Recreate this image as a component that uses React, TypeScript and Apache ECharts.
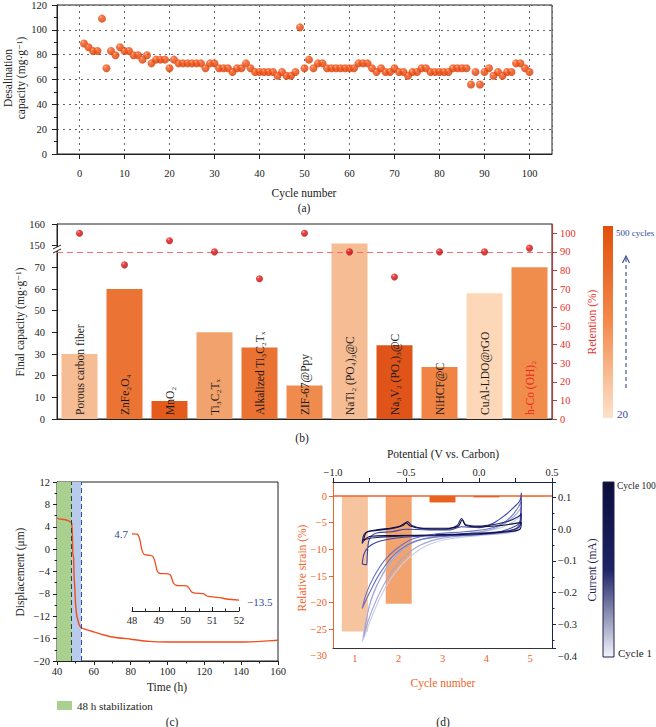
import React, { useEffect, useRef } from 'react';
import * as echarts from 'echarts';

const F = "'Liberation Serif', 'DejaVu Serif', serif";

// ---------- (a) desalination capacity vs cycle ----------
const capacityA = [
  89, 86, 83, 83, 109, 69, 83, 79.5, 86, 83,
  83, 79.5, 79.5, 76, 79.5, 73, 76, 76, 76, 69,
  76, 73, 73, 73, 73, 73, 73, 69, 73, 73,
  69, 69, 69, 66, 69, 69, 73, 69, 66, 66,
  66, 66, 66, 63, 66, 63, 63, 66, 102, 69,
  76, 69, 73, 73, 69, 69, 69, 69, 69, 69,
  69, 73, 73, 73, 69, 66, 69, 66, 66, 69,
  66, 66, 63, 66, 66, 69, 69, 66, 66, 66,
  66, 66, 69, 69, 69, 69, 56, 66, 56, 66,
  69, 63, 66, 63, 66, 66, 73, 73, 69, 66,
];

// ---------- (b) final capacity & retention ----------
const materials = [
  'Porous carbon fiber', 'ZnFe₂O₄', 'MnO₂', 'Ti₃C₂Tₓ', 'Alkalized Ti₃C₂Tₓ', 'ZIF-67@Ppy',
  'NaTi₂ (PO₄)₃@C', 'Na₃V₂ (PO₄)₃@C', 'NiHCF@C', 'CuAl-LDO@rGO', 'h-Co (OH)₂',
];
const finalCapacity = [30, 60, 8.3, 40, 33, 15.5, 151, 34, 24, 58, 70];
const retention = [100, 83, 96, 90, 75.5, 100, 90, 76.5, 90, 90, 92];
const leftTickLabels = ['0', '10', '20', '30', '40', '50', '60', '70', '150', '160'];

// ---------- (c) displacement ----------
const timeH = [40, 41, 44, 46, 47.5, 48, 48.4, 48.6, 49, 49.3, 49.6, 50, 50.4, 50.8, 51.5, 52, 53, 55, 60, 65, 70, 80, 90, 100, 120, 140, 150, 160];
const displacement = [5.6, 5.4, 5.3, 5.1, 4.8, 4.6, 2.0, -0.8, -1.5, -5, -6.5, -9.3, -11, -12, -12.9, -13.5, -14.0, -14.3, -14.8, -15.3, -15.7, -16.1, -16.5, -16.6, -16.6, -16.6, -16.5, -16.3];
const insetTime = [48, 48.19, 48.28, 48.37, 48.46, 48.62, 48.78, 48.87, 48.95, 49.05, 49.36, 49.45, 49.55, 49.67, 50.04, 50.13, 50.23, 50.35, 50.66, 50.76, 50.85, 51.28, 51.53, 52];
const insetDisp = [4.7, 4.6, 3.5, 0.3, -1.0, -1.16, -1.5, -3.35, -5.6, -6.2, -6.3, -6.8, -8.8, -9.5, -9.6, -10.2, -11.3, -11.6, -11.7, -12.2, -12.5, -12.8, -13.2, -13.5];

// ---------- (d) strain & CV ----------
const strainCycles = ['1', '2', '3', '4', '5'];
const relativeStrain = [-25.4, -20.2, -1.2, -0.25, -0.1];

const cv1 = [[-0.80, -0.356], [-0.78, -0.30], [-0.75, -0.24], [-0.70, -0.18], [-0.63, -0.12], [-0.55, -0.07], [-0.45, -0.04], [-0.3, -0.025], [-0.1, -0.015], [0.05, -0.005], [0.15, 0.005], [0.22, 0.02], [0.27, 0.035], [0.29, 0.045],
  [0.27, 0.0], [0.2, -0.012], [0.0, -0.02], [-0.2, -0.03], [-0.35, -0.05], [-0.48, -0.09], [-0.58, -0.14], [-0.66, -0.2], [-0.72, -0.26], [-0.77, -0.32], [-0.80, -0.356]];
const cv2 = [[-0.79, -0.34], [-0.77, -0.28], [-0.73, -0.21], [-0.67, -0.15], [-0.6, -0.1], [-0.5, -0.055], [-0.38, -0.03], [-0.2, -0.018], [0.0, -0.01], [0.12, 0.005], [0.2, 0.025], [0.26, 0.05], [0.29, 0.07],
  [0.27, 0.005], [0.2, -0.01], [0.0, -0.018], [-0.25, -0.028], [-0.4, -0.05], [-0.52, -0.09], [-0.62, -0.15], [-0.7, -0.22], [-0.76, -0.29], [-0.79, -0.34]];
const cv3 = [[-0.80, -0.25], [-0.77, -0.2], [-0.72, -0.15], [-0.65, -0.1], [-0.56, -0.06], [-0.45, -0.03], [-0.3, -0.015], [-0.1, -0.008], [0.05, 0.0], [0.15, 0.015], [0.22, 0.04], [0.27, 0.07], [0.29, 0.09],
  [0.27, 0.01], [0.15, -0.01], [-0.05, -0.018], [-0.3, -0.025], [-0.45, -0.04], [-0.58, -0.08], [-0.68, -0.14], [-0.75, -0.2], [-0.80, -0.25]];
const cv4 = [[-0.80, -0.11], [-0.77, -0.112], [-0.765, -0.08], [-0.75, -0.03], [-0.7, -0.012], [-0.6, -0.008], [-0.5, 0.0], [-0.35, -0.002], [-0.2, -0.002], [-0.12, 0.008], [0.0, 0.005], [0.1, 0.02], [0.18, 0.045], [0.24, 0.07], [0.28, 0.09], [0.29, 0.115],
  [0.285, 0.03], [0.25, 0.01], [0.1, -0.012], [-0.1, -0.018], [-0.4, -0.022], [-0.6, -0.03], [-0.72, -0.045], [-0.78, -0.07], [-0.80, -0.11]];
const cv5 = [[-0.80, -0.045], [-0.78, -0.012], [-0.7, -0.004], [-0.6, 0.002], [-0.52, 0.012], [-0.49, 0.024], [-0.46, 0.012], [-0.38, 0.002], [-0.25, 0.0], [-0.15, 0.012], [-0.12, 0.034], [-0.09, 0.014], [0.0, 0.01], [0.1, 0.015], [0.2, 0.025], [0.27, 0.04], [0.29, 0.05],
  [0.28, 0.01], [0.2, -0.005], [0.0, -0.012], [-0.3, -0.018], [-0.55, -0.022], [-0.7, -0.026], [-0.78, -0.032], [-0.80, -0.045]];
const cv6 = [[-0.79, -0.035], [-0.77, -0.01], [-0.7, -0.002], [-0.6, 0.004], [-0.54, 0.01], [-0.5, 0.02], [-0.47, 0.01], [-0.4, 0.003], [-0.2, 0.003], [-0.14, 0.01], [-0.115, 0.03], [-0.09, 0.012], [0.0, 0.008], [0.15, 0.012], [0.27, 0.02], [0.29, 0.022],
  [0.28, 0.0], [0.2, -0.008], [0.0, -0.014], [-0.3, -0.018], [-0.6, -0.02], [-0.74, -0.022], [-0.79, -0.035]];
const cvLoops = [cv1, cv2, cv3, cv4, cv5, cv6];

// ---------- styles ----------
const barColorsB = ['#f6bd94', '#eb7434', '#e35c1c', '#f2a26c', '#ea7232', '#f08b4e', '#f6bd94', '#e0541a', '#ef8444', '#fdd8b8', '#f08c4c'];
const strainColors = ['#f7c4a0', '#f2a36e', '#e8621e', '#dc4f1a', '#f3a070'];
const cvColors = ['#c8cbea', '#a0a6d8', '#6b72bf', '#3c43a0', '#1f2472', '#0b0d3c'];
const ORANGE = '#f0622a';
const NAVY = '#1c2350';
const BLUE_TXT = '#34489a';

const minus = (v: number, d = 0) => (v < 0 ? '−' + Math.abs(v).toFixed(d) : v.toFixed(d));
const capToDisplay = (v: number) => (v > 75 ? v - 70 : v);

function txt(text: string, x: number, y: number, o: any = {}) {
  const align = o.align || 'center';
  return {
    type: 'text', x, y, rotation: o.rot || 0, z: 100, silent: true,
    style: {
      text, fill: o.color || '#222', fontSize: o.size || 11.5, fontFamily: F,
      textAlign: align, textVerticalAlign: 'middle', align, verticalAlign: 'middle',
    },
  };
}

export default function App() {
  const ref = useRef<HTMLDivElement>(null);
  useEffect(() => {
    document.body.style.margin = '0';
    const chart = echarts.init(ref.current!, undefined, { renderer: 'svg' });
    const R = Math.PI / 2;

    const dotA = new echarts.graphic.RadialGradient(0.35, 0.3, 0.7, [
      { offset: 0, color: '#ffb487' }, { offset: 0.25, color: '#f7551a' }, { offset: 1, color: '#d43800' },
    ]);
    const dotB = new echarts.graphic.RadialGradient(0.35, 0.3, 0.7, [
      { offset: 0, color: '#ffa0a0' }, { offset: 0.3, color: '#e81414' }, { offset: 1, color: '#b00808' },
    ]);

    const lbl = { fontFamily: F, fontSize: 10.5, color: '#222' };
    const line = (color: string, extra: any = {}) => ({ show: true, onZero: false, lineStyle: { color, ...extra } });

    const option: any = {
      animation: false,
      textStyle: { fontFamily: F },
      grid: [
        { left: 57, top: 5, width: 495, height: 149, show: true, borderColor: '#222', borderWidth: 1, containLabel: false, outerBoundsMode: 'none' },
        { left: 57, top: 224, width: 495, height: 195, show: true, borderColor: '#222', borderWidth: 1, containLabel: false, outerBoundsMode: 'none' },
        { left: 57, top: 482, width: 221, height: 179, show: true, borderColor: '#222', borderWidth: 1, containLabel: false, outerBoundsMode: 'none' },
        { left: 132, top: 530, width: 107, height: 81, show: false, containLabel: false, outerBoundsMode: 'none' },
        { left: 333, top: 482, width: 219, height: 166, show: false, containLabel: false, outerBoundsMode: 'none' },
      ],
      xAxis: [
        { gridIndex: 0, type: 'value', min: -5, max: 105, splitNumber: 11,
          axisLine: line('#222'), axisTick: { length: 5, lineStyle: { color: '#222' } },
          axisLabel: { ...lbl, margin: 14, showMinLabel: false, showMaxLabel: false },
          splitLine: { show: true, lineStyle: { type: [2, 4], color: '#666' } } },
        { gridIndex: 1, type: 'category', data: materials, boundaryGap: true,
          axisLine: line('#222'), axisTick: { show: false }, axisLabel: { show: false }, splitLine: { show: false } },
        { gridIndex: 2, type: 'value', min: 40, max: 160, interval: 20,
          axisLine: line('#222'), axisTick: { length: 4, lineStyle: { color: '#222' } },
          minorTick: { show: true, splitNumber: 2, length: 2.5, lineStyle: { color: '#222' } },
          axisLabel: { ...lbl, margin: 5 }, splitLine: { show: false } },
        { gridIndex: 3, type: 'value', min: 48, max: 52, interval: 1,
          axisLine: line('#222'), axisTick: { inside: true, length: 4, lineStyle: { color: '#222' } },
          minorTick: { show: true, splitNumber: 2, length: 2.5, lineStyle: { color: '#222' } },
          axisLabel: { ...lbl, margin: 4 }, splitLine: { show: false } },
        { gridIndex: 4, type: 'category', data: strainCycles, position: 'bottom', boundaryGap: true,
          axisLine: line('#333'), axisTick: { alignWithLabel: true, length: 4, lineStyle: { color: ORANGE } },
          axisLabel: { ...lbl, color: ORANGE, margin: 5 }, splitLine: { show: false } },
        { gridIndex: 4, type: 'value', position: 'top', min: -1, max: 0.5, interval: 0.5,
          axisLine: line(NAVY), axisTick: { length: 4, lineStyle: { color: NAVY } },
          minorTick: { show: true, splitNumber: 2, length: 4, lineStyle: { color: NAVY } },
          axisLabel: { ...lbl, margin: 4, formatter: (v: number) => minus(v, 1) }, splitLine: { show: false } },
      ],
      yAxis: [
        { gridIndex: 0, type: 'value', min: 0, max: 120, interval: 20,
          axisLine: line('#222'), axisTick: { show: true, length: 5, lineStyle: { color: '#222' } },
          minorTick: { show: true, splitNumber: 2, length: 3, lineStyle: { color: '#222' } },
          axisLabel: { ...lbl, margin: 10 },
          splitLine: { show: true, lineStyle: { type: [2, 4], color: '#666' } } },
        { gridIndex: 1, type: 'value', min: 0, max: 90, interval: 10,
          axisLine: line('#222'), axisTick: { show: true, length: 5, lineStyle: { color: '#222' } },
          axisLabel: { ...lbl, margin: 12, formatter: (v: number) => leftTickLabels[Math.round(v / 10)] || '' },
          splitLine: { show: false } },
        { gridIndex: 1, type: 'value', position: 'right', min: 0, max: 105, interval: 10,
          axisLine: line('#a84444', { width: 1.2 }),
          axisTick: { show: true, length: 5, lineStyle: { color: '#a84444' } },
          axisLabel: { ...lbl, color: '#e8302a', margin: 8, showMaxLabel: false, formatter: (v: number) => (v > 100 ? '' : String(v)) },
          splitLine: { show: false } },
        { gridIndex: 2, type: 'value', min: -20, max: 12, interval: 4,
          axisLine: line('#222'), axisTick: { show: true, length: 4, lineStyle: { color: '#222' } },
          minorTick: { show: true, splitNumber: 2, length: 2.5, lineStyle: { color: '#222' } },
          axisLabel: { ...lbl, margin: 7, formatter: (v: number) => minus(v) }, splitLine: { show: false } },
        { gridIndex: 3, type: 'value', min: -16.5, max: 5.75, show: false, axisLine: { onZero: false } },
        { gridIndex: 4, type: 'value', position: 'left', min: -28.5, max: 2.63, splitNumber: 6,
          axisLine: line(ORANGE), axisTick: { show: true, length: 4, lineStyle: { color: ORANGE } },
          axisLabel: { ...lbl, color: ORANGE, margin: 6, showMinLabel: false, showMaxLabel: false, formatter: (v: number) => minus(v) },
          splitLine: { show: false } },
        { gridIndex: 4, type: 'value', position: 'right', min: -0.3745, max: 0.149, splitNumber: 5,
          axisLine: line(NAVY), axisTick: { show: true, length: 4, lineStyle: { color: NAVY } },
          minorTick: { show: true, splitNumber: 2, length: 2.5, lineStyle: { color: NAVY } },
          axisLabel: { ...lbl, margin: 6, showMinLabel: false, showMaxLabel: false, formatter: (v: number) => minus(v, 1) },
          splitLine: { show: false } },
      ],
      series: [
        { type: 'scatter', xAxisIndex: 0, yAxisIndex: 0, symbolSize: 8,
          data: capacityA.map((v, i) => [i + 1, v]), itemStyle: { color: dotA } },
        { type: 'bar', xAxisIndex: 1, yAxisIndex: 1, barCategoryGap: '20%',
          data: finalCapacity.map((v, i) => ({
            value: capToDisplay(v), itemStyle: { color: barColorsB[i] },
            label: { color: i === 10 ? '#e8281e' : '#1a1a1a' },
          })),
          label: { show: true, position: 'insideBottom', rotate: 90, align: 'left', verticalAlign: 'middle', distance: 4,
            fontFamily: F, fontSize: 11.5, formatter: (p: any) => materials[p.dataIndex] } },
        { type: 'scatter', xAxisIndex: 1, yAxisIndex: 2, symbolSize: 7, z: 5,
          data: retention, itemStyle: { color: dotB },
          markLine: { silent: true, symbol: 'none', label: { show: false },
            lineStyle: { type: [6, 4], color: '#f07070', width: 1.2 }, data: [{ yAxis: 90 }] } },
        { type: 'line', xAxisIndex: 2, yAxisIndex: 3, showSymbol: false, smooth: 0.2,
          data: timeH.map((t, i) => [t, displacement[i]]), lineStyle: { color: '#f04e1c', width: 1.4 }, z: 4,
          markArea: { silent: true, data: [
            [{ xAxis: 40, itemStyle: { color: '#a9d08e' } }, { xAxis: 47.6 }],
            [{ xAxis: 47.6, itemStyle: { color: '#b9cbea' } }, { xAxis: 53 }],
          ] },
          markLine: { silent: true, symbol: 'none', label: { show: false }, data: [
            { xAxis: 47.6, lineStyle: { color: '#2d4a2d', type: [5, 3], width: 1 } },
            { xAxis: 53, lineStyle: { color: '#2a4fa8', type: [5, 3], width: 1 } },
          ] } },
        { type: 'line', xAxisIndex: 3, yAxisIndex: 4, showSymbol: false, smooth: 0.3,
          data: insetTime.map((t, i) => [t, insetDisp[i]]), lineStyle: { color: '#f04e1c', width: 1.3 } },
        { type: 'bar', xAxisIndex: 4, yAxisIndex: 5, barWidth: 26,
          data: relativeStrain.map((v, i) => ({ value: v, itemStyle: { color: strainColors[i] } })),
          markLine: { silent: true, symbol: 'none', label: { show: false },
            lineStyle: { type: 'solid', color: ORANGE, width: 1.5 }, data: [{ yAxis: 0 }] } },
        ...cvLoops.map((loop, k) => ({
          type: 'line', xAxisIndex: 5, yAxisIndex: 6, showSymbol: false, smooth: 0.35, z: 6,
          data: loop, lineStyle: { color: cvColors[k], width: 1.1 },
        })),
      ],
      graphic: [
        // (a)
        txt('Desalination', 8, 78, { rot: R }),
        txt('capacity (mg·g⁻¹)', 21, 78, { rot: R }),
        txt('Cycle number', 304, 193),
        txt('(a)', 304, 208),
        // (b)
        txt('Final capacity (mg·g⁻¹)', 20, 322, { rot: R }),
        txt('Retention (%)', 592, 322, { rot: R, color: '#e8302a' }),
        txt('(b)', 302, 438),
        { type: 'rect', z: 100, shape: { x: 52, y: 247, width: 12, height: 4 }, style: { fill: '#fff' } },
        { type: 'line', z: 101, shape: { x1: 53, y1: 249, x2: 61, y2: 245 }, style: { stroke: '#222', lineWidth: 1 } },
        { type: 'line', z: 101, shape: { x1: 53, y1: 253, x2: 61, y2: 249 }, style: { stroke: '#222', lineWidth: 1 } },
        { type: 'rect', z: 100, shape: { x: 603, y: 226, width: 10, height: 192 },
          style: { fill: new echarts.graphic.LinearGradient(0, 0, 0, 1, [
            { offset: 0, color: '#e24f0c' }, { offset: 0.5, color: '#f38a4c' }, { offset: 1, color: '#fde3cc' }]) } },
        txt('500 cycles', 616, 233, { align: 'left', color: BLUE_TXT, size: 9 }),
        txt('20', 617, 414, { align: 'left', color: BLUE_TXT, size: 11 }),
        { type: 'line', z: 100, shape: { x1: 626, y1: 388, x2: 626, y2: 258 }, style: { stroke: BLUE_TXT, lineWidth: 1.1, lineDash: [4, 3] } },
        { type: 'polyline', z: 100, shape: { points: [[622.5, 263], [626, 256], [629.5, 263]] }, style: { stroke: BLUE_TXT, lineWidth: 1.1, fill: 'none' } },
        // (c)
        txt('Displacement (μm)', 20, 572, { rot: R }),
        txt('Time (h)', 167, 687),
        txt('(c)', 172, 722),
        txt('4.7', 128, 534, { align: 'right', color: BLUE_TXT, size: 11 }),
        txt('−13.5', 247, 602, { align: 'left', color: BLUE_TXT, size: 11 }),
        { type: 'rect', z: 100, shape: { x: 57, y: 701, width: 15, height: 9 }, style: { fill: '#a9d08e' } },
        txt('48 h stabilization', 77, 705.5, { align: 'left', size: 11 }),
        // (d)
        txt('Potential (V vs. Carbon)', 443, 454),
        txt('Relative strain (%)', 302, 568, { rot: R, color: ORANGE }),
        txt('Current (mA)', 592, 570, { rot: R, color: NAVY }),
        txt('Cycle number', 443, 683, { color: ORANGE }),
        txt('(d)', 443, 722),
        txt('−30', 327, 655, { align: 'right', color: ORANGE, size: 10.5 }),
        txt('−0.4', 558, 656, { align: 'left', color: '#222', size: 10.5 }),
        { type: 'rect', z: 100, shape: { x: 603, y: 482, width: 11, height: 175 },
          style: { stroke: NAVY, lineWidth: 1, fill: new echarts.graphic.LinearGradient(0, 0, 0, 1, [
            { offset: 0, color: '#0b0d3a' }, { offset: 0.5, color: '#1e2466' }, { offset: 1, color: '#f4f4fb' }]) } },
        txt('Cycle 100', 617, 486, { align: 'left', size: 9.5 }),
        txt('Cycle 1', 618, 653, { align: 'left', size: 11 }),
      ],
    };
    chart.setOption(option);
    return () => chart.dispose();
  }, []);
  return <div ref={ref} style={{ width: 656, height: 727 }} />;
}
